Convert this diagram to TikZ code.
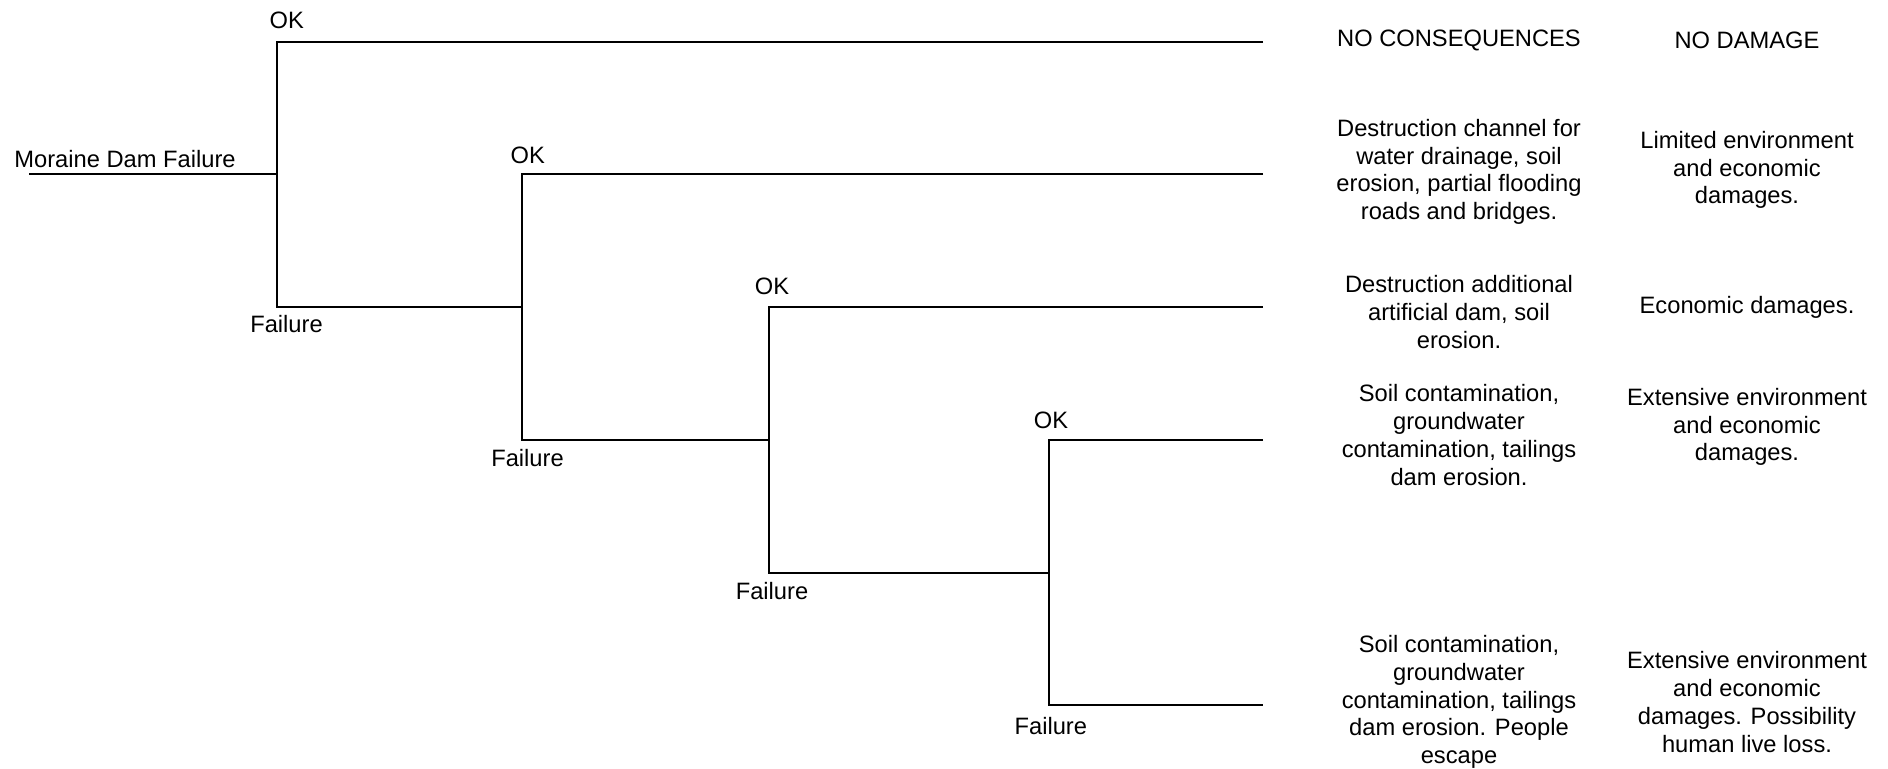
\documentclass[tikz,border=0pt]{standalone}
\usepackage{fontspec}
\setmainfont{Liberation Sans}
\begin{document}
\begin{tikzpicture}[x=0.5pt,y=-0.5pt,
  branch/.style={line width=1pt},
  lbl/.style={font=\fontsize{11.85}{13.85}\selectfont, inner sep=0pt},
  outcome/.style={lbl, align=center},
]
\useasboundingbox (0,0) rectangle (1888,769);

% branch points of the event tree
\coordinate (start) at (29,174.5);
\coordinate (n1)    at (276.5,174.5);
\coordinate (n1top) at (276.5,42);
\coordinate (n1bot) at (276.5,307);
\coordinate (n2top) at (522,174.5);
\coordinate (n2mid) at (522,307);
\coordinate (n2bot) at (522,440);
\coordinate (n3top) at (769,307);
\coordinate (n3mid) at (769,440);
\coordinate (n3bot) at (769,572.5);
\coordinate (n4top) at (1048.5,440);
\coordinate (n4mid) at (1048.5,572.5);
\coordinate (n4bot) at (1048.5,705);
\coordinate (e1) at (1263,42);
\coordinate (e2) at (1263,174.5);
\coordinate (e3) at (1263,307);
\coordinate (e4) at (1263,440);
\coordinate (e5) at (1263,705);

% tree lines
\draw[branch] (start) -- (n1);
\draw[branch] (e1) -- (n1top) -- (n1bot) -- (n2mid);
\draw[branch] (e2) -- (n2top) -- (n2bot) -- (n3mid);
\draw[branch] (e3) -- (n3top) -- (n3bot) -- (n4mid);
\draw[branch] (e4) -- (n4top) -- (n4bot) -- (e5);

% initiating event
\node[lbl, anchor=west] (init) at (14,159.3) {Moraine Dam Failure};

% branch labels
\node[lbl] (ok1) at (286.7,20) {OK};
\node[lbl] (ok2) at (527.7,155.5) {OK};
\node[lbl] (ok3) at (772,286.7) {OK};
\node[lbl] (ok4) at (1051,420) {OK};
\node[lbl] (f1) at (286.5,323.7) {Failure};
\node[lbl] (f2) at (527.5,458) {Failure};
\node[lbl] (f3) at (772,591) {Failure};
\node[lbl] (f4) at (1050.8,725.7) {Failure};

% consequences
\node[outcome] (c1) at (1459,40) {NO CONSEQUENCES};
\node[outcome] (c2) at (1459,172) {Destruction channel for\\water drainage, soil\\erosion, partial flooding\\roads and bridges.};
\node[outcome] (c3) at (1459,312) {Destruction additional\\artificial dam, soil\\erosion.};
\node[outcome] (c4) at (1459,435) {Soil contamination,\\groundwater\\contamination, tailings\\dam erosion.};
\node[outcome] (c5) at (1459,702) {Soil contamination,\\groundwater\\contamination, tailings\\dam erosion. People\\escape};

% damages
\node[outcome] (d1) at (1747,40) {NO DAMAGE};
\node[outcome] (d2) at (1747,170) {Limited environment\\and economic\\damages.};
\node[outcome] (d3) at (1747,307) {Economic damages.};
\node[outcome] (d4) at (1747,427) {Extensive environment\\and economic\\damages.};
\node[outcome] (d5) at (1747,702) {Extensive environment\\and economic\\damages. Possibility\\human live loss.};
\end{tikzpicture}
\end{document}
